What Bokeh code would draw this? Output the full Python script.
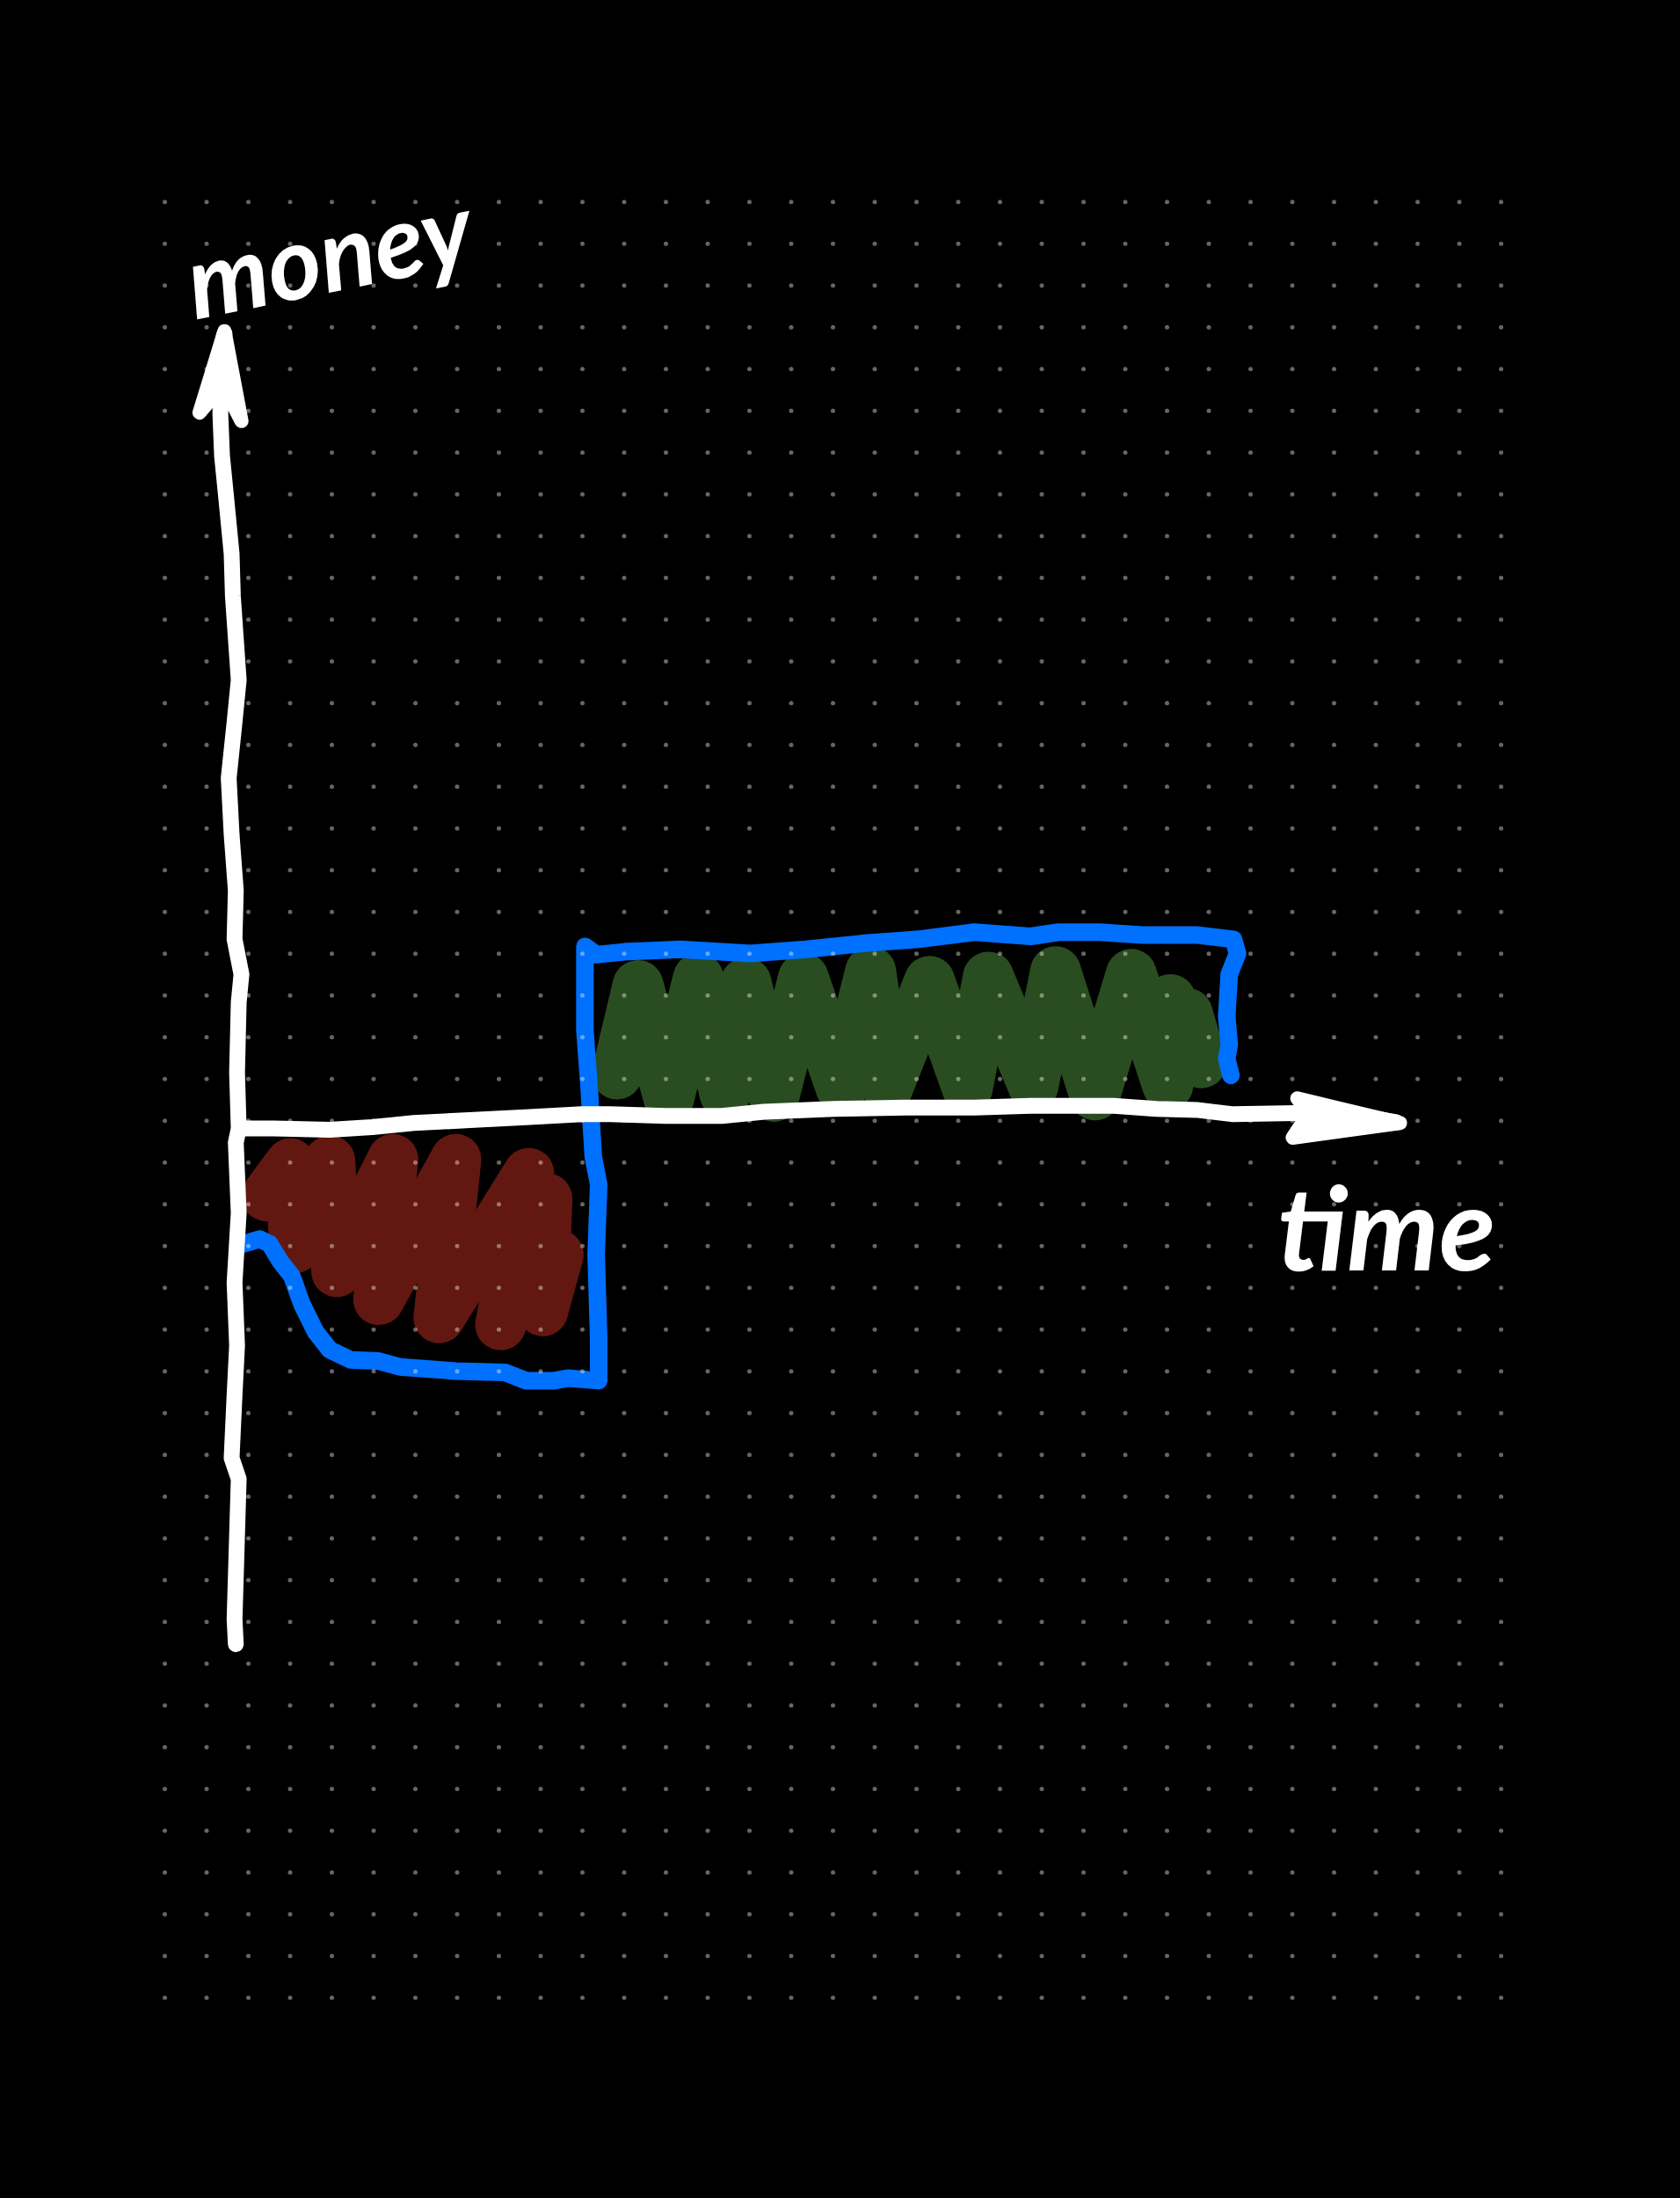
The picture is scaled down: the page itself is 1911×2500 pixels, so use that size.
import numpy as np
from bokeh.plotting import figure
from bokeh.models import Range1d
from bokeh.core.properties import value
from bokeh.embed import file_html
from bokeh.resources import INLINE

# ---------------- data (units: one grid step; origin = axes crossing) ----------------
# hand-drawn money axis (vertical)
money_axis_x = [-0.09, -0.12, -0.06, -0.02, -0.19, -0.12, -0.06, -0.12, -0.02, -0.09, -0.02, -0.06, -0.02, 0.045,
                -0.12, -0.09, -0.19, -0.26, -0.12, -0.02, -0.09, -0.16, -0.19, -0.32, -0.42, -0.46, -0.42, -0.36]
money_axis_y = [-12.35, -11.75, -9.73, -8.39, -7.89, -6.38, -5.20, -3.69, -2.02, -0.34, 0.0, 1.34, 3.02, 3.69,
                4.53, 5.70, 7.04, 8.39, 9.73, 10.74, 11.74, 12.75, 13.76, 15.10, 16.11, 17.11, 18.79, 19.03]
money_head_x = [-0.36, -0.96, -0.40, 0.045]
money_head_y = [19.09, 17.14, 17.80, 16.94]

# hand-drawn time axis (horizontal)
time_axis_x = [0.01, 0.82, 2.16, 3.17, 4.17, 5.51, 6.86, 8.20, 8.87, 10.21, 11.55, 12.56, 14.24, 15.92,
               17.60, 18.94, 20.95, 21.96, 22.96, 23.80, 25.31, 26.32, 27.70]
time_axis_y = [0.0, 0.0, -0.03, 0.03, 0.13, 0.20, 0.27, 0.34, 0.34, 0.30, 0.30, 0.40, 0.47, 0.50,
               0.50, 0.54, 0.54, 0.47, 0.44, 0.34, 0.37, 0.38, 0.15]
time_head_x = [27.79, 25.33, 25.60, 25.22]
time_head_y = [0.13, 0.72, 0.36, -0.22]

# blue cash-flow line
flow_time = [0.01, 0.48, 0.72, 0.98, 1.25, 1.49, 1.82, 2.16, 2.66, 3.33, 3.84, 5.18, 6.35, 6.86, 7.53,
             7.86, 8.60, 8.60, 8.54, 8.60, 8.47, 8.37, 8.27, 8.27, 8.54, 9.21, 10.55, 12.23, 13.57, 14.91,
             16.25, 17.60, 18.94, 19.61, 20.62, 21.62, 22.96, 23.80, 23.90, 23.70, 23.64, 23.70, 23.64, 23.74]
flow_money = [-2.79, -2.65, -2.76, -3.19, -3.53, -4.20, -4.87, -5.30, -5.54, -5.57, -5.71, -5.81, -5.84, -6.04, -6.04,
              -5.98, -6.04, -5.04, -3.02, -1.34, -0.67, 1.00, 2.35, 4.36, 4.16, 4.23, 4.29, 4.19, 4.29, 4.43,
              4.53, 4.70, 4.60, 4.70, 4.70, 4.63, 4.63, 4.53, 4.19, 3.69, 2.68, 2.01, 1.67, 1.27]

# red scribble (loss area)
loss_x = [0.649, 1.219, 1.320, 2.159, 2.327, 3.669, 3.333, 5.179, 4.776, 6.924, 6.253, 7.360, 7.260, 7.629]
loss_y = [-1.614, -0.842, -2.856, -0.775, -3.426, -0.741, -4.097, -0.741, -4.533, -1.077, -4.701, -1.681, -4.366, -3.023]

# green scribble (gain area)
gain_x = [9.038, 9.542, 10.280, 10.985, 11.622, 12.126, 12.797, 13.502, 14.408, 15.113, 15.515, 16.522,
          17.428, 17.931, 19.005, 19.542, 20.482, 21.354, 22.227, 22.294, 23.032, 22.697]
gain_y = [1.306, 3.420, 0.736, 3.587, 0.837, 3.487, 0.770, 3.587, 0.971, 3.755, 0.971, 3.520,
          0.971, 3.621, 1.038, 3.755, 0.803, 3.688, 1.038, 3.084, 1.574, 2.749]

# labels
label_text = ["money", "time"]
label_x = [-1.25, 24.85]
label_y = [20.28, -2.33]
label_angle = [0.2, 0.0]
label_size = ["116px", "132px"]

# ---------------- layout ----------------
W, H = 1895, 2480
STEP = 47.5            # px per grid step
OX, OY = 280 - 8, 1291 - 8   # origin in canvas pixels
x0 = -OX / STEP
y1 = OY / STEP

p = figure(width=W, height=H, output_backend="svg", toolbar_location=None,
           x_range=Range1d(x0, x0 + W / STEP), y_range=Range1d(y1 - H / STEP, y1),
           background_fill_color="black", border_fill_color="black",
           min_border=0, outline_line_color=None)
p.axis.visible = False
p.grid.visible = False

# scribbles
p.line(loss_x, loss_y, line_color="#621810", line_width=58, line_cap="round", line_join="round")
p.line(gain_x, gain_y, line_color="#294d20", line_width=58, line_cap="round", line_join="round")

# blue line
p.line(flow_time, flow_money, line_color="#0070ff", line_width=20, line_cap="round", line_join="round")

# axes
for ax, ay in ((money_axis_x, money_axis_y), (time_axis_x, time_axis_y)):
    p.line(ax, ay, line_color="white", line_width=18, line_cap="round", line_join="round")
for hx, hy in ((money_head_x, money_head_y), (time_head_x, time_head_y)):
    p.patch(hx, hy, fill_color="white", line_color="white", line_width=16, line_join="round")

# labels
for t, lx, ly, la, ls in zip(label_text, label_x, label_y, label_angle, label_size):
    p.text(x=[lx], y=[ly], text=[t], angle=la,
           text_font=value("Lato"), text_font_style="bold italic", text_font_size=value(ls),
           text_color="white", text_align="left", text_baseline="alphabetic")

# dot grid (paper background)
gx, gy = np.meshgrid(np.arange(33), np.arange(44))
dot_x = (195 - 280) / STEP + gx.ravel()
dot_y = (1291 - 237.3) / STEP - gy.ravel()
p.scatter(dot_x, dot_y, size=5, fill_color="white", fill_alpha=0.4, line_color=None)

html = file_html(p, INLINE)
html = html.replace("<head>", "<head><style>html,body{background:#000;}</style>", 1)
open("out.html", "w").write(html)
